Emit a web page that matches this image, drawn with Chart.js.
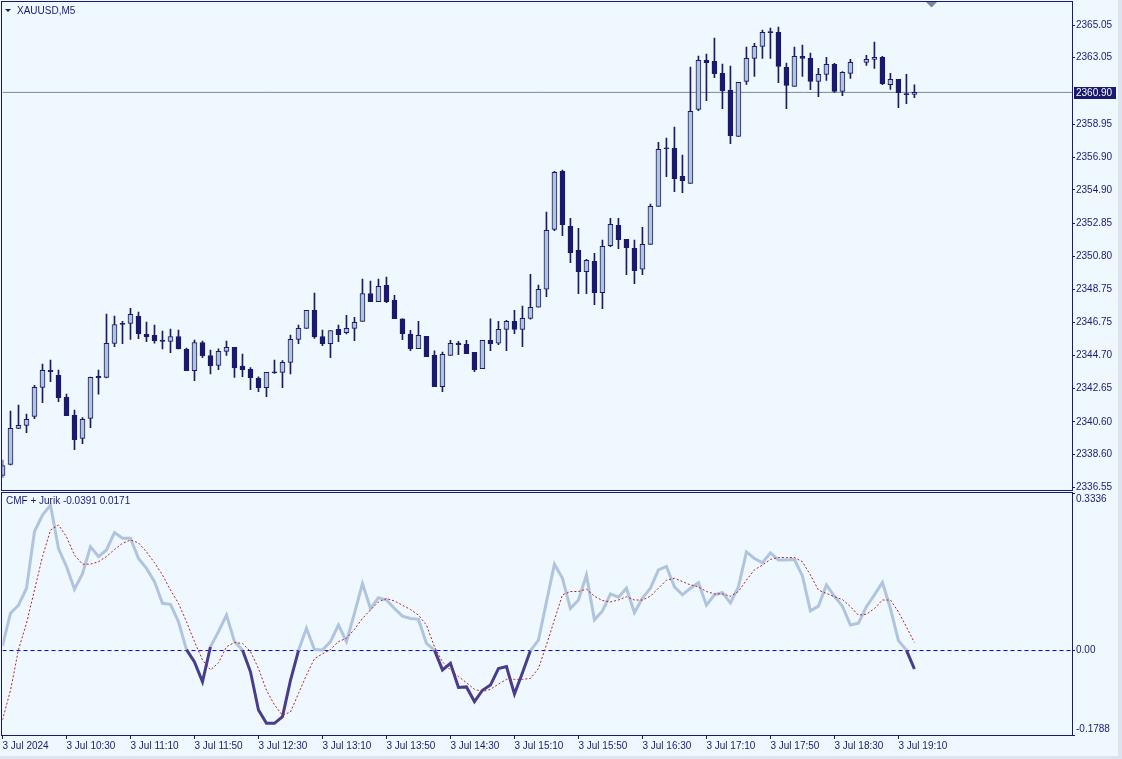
<!DOCTYPE html>
<html>
<head>
<meta charset="utf-8">
<script src="https://cdn.jsdelivr.net/npm/chart.js@4.4.1/dist/chart.umd.min.js"></script>
<style>
html, body { margin: 0; padding: 0; background: #f0f8ff; width: 1122px; height: 759px; overflow: hidden; }
#wrap { position: relative; width: 1122px; height: 759px; }
#priceBox { position: absolute; left: 0; top: 0; width: 1122px; height: 496px; }
#cmfBox { position: absolute; left: 0; top: 491px; width: 1122px; height: 268px; }
#edgeR { position: absolute; left: 1118px; top: 0; width: 4px; height: 759px; background: #dbe4ef; }
#edgeB { position: absolute; left: 0; top: 756px; width: 1122px; height: 3px; background: #dbe4ef; }
</style>
</head>
<body>
<div id="wrap">
  <div id="priceBox"><canvas id="price"></canvas></div>
  <div id="cmfBox"><canvas id="cmf"></canvas></div>
  <div id="edgeR"></div>
  <div id="edgeB"></div>
</div>
<script>
// XAUUSD M5, 3 Jul 2024 09:50 - 19:20
const symbol = 'XAUUSD,M5';

const opens = [
  2337.30, 2337.98, 2340.20, 2340.38, 2340.94, 2342.72, 2343.77, 2343.46, 2342.11, 2341.00,
  2339.58, 2340.81, 2343.40, 2343.34, 2345.43, 2346.67, 2346.67, 2347.10, 2345.99, 2345.93,
  2345.64, 2345.56, 2345.86, 2345.08, 2343.75, 2345.49, 2344.69, 2344.08, 2344.94, 2345.19,
  2344.04, 2343.83, 2343.28, 2342.70, 2343.67, 2343.65, 2344.26, 2345.68, 2346.36, 2347.47,
  2345.86, 2345.41, 2346.30, 2346.09, 2346.36, 2346.79, 2348.51, 2348.01, 2349.01, 2348.09,
  2346.94, 2346.01, 2345.11, 2345.87, 2344.70, 2342.77, 2344.70, 2345.45, 2345.38, 2344.88,
  2343.88, 2345.62, 2345.44, 2346.30, 2346.79, 2346.30, 2346.98, 2347.66, 2348.77, 2352.46,
  2356.04, 2352.65, 2351.17, 2349.85, 2350.49, 2348.56, 2351.45, 2352.71, 2351.85, 2351.29,
  2350.00, 2351.54, 2353.88, 2357.45, 2357.45, 2355.73, 2355.29, 2359.85, 2362.87, 2362.81,
  2362.07, 2361.04, 2358.19, 2361.58, 2363.00, 2363.74, 2364.60, 2364.60, 2362.44, 2361.27,
  2363.12, 2363.00, 2361.58, 2362.01, 2362.63, 2360.96, 2362.07, 2362.89, 2362.75, 2362.93,
  2363.06, 2361.37, 2361.70, 2360.82, 2360.78
];
const highs = [
  2338.24, 2341.26, 2341.63, 2341.08, 2342.85, 2344.16, 2344.41, 2343.79, 2342.31, 2341.33,
  2340.87, 2343.36, 2343.79, 2347.24, 2347.12, 2346.79, 2347.59, 2347.36, 2346.75, 2346.56,
  2346.19, 2346.32, 2346.25, 2345.14, 2345.64, 2345.58, 2345.02, 2345.10, 2345.58, 2345.19,
  2344.78, 2343.95, 2343.38, 2343.65, 2344.41, 2344.37, 2345.95, 2346.56, 2347.47, 2348.53,
  2346.25, 2346.23, 2346.56, 2347.16, 2347.04, 2349.40, 2349.27, 2349.40, 2349.52, 2348.40,
  2346.94, 2346.24, 2346.79, 2345.87, 2344.97, 2344.90, 2345.62, 2345.56, 2345.62, 2344.88,
  2345.62, 2346.94, 2346.79, 2346.86, 2347.47, 2347.74, 2349.69, 2349.03, 2353.53, 2356.04,
  2356.12, 2353.14, 2352.52, 2350.61, 2350.98, 2351.80, 2353.14, 2353.14, 2351.85, 2351.80,
  2352.59, 2354.02, 2357.82, 2358.09, 2358.76, 2357.04, 2362.46, 2363.14, 2363.26, 2364.25,
  2362.65, 2362.52, 2361.52, 2363.69, 2363.92, 2364.74, 2364.86, 2364.93, 2362.71, 2363.69,
  2363.82, 2363.32, 2362.38, 2363.06, 2362.69, 2362.19, 2362.93, 2363.00, 2363.18, 2364.00,
  2363.12, 2362.07, 2361.70, 2362.01, 2361.37
];
const lows = [
  2337.18, 2337.95, 2340.18, 2339.93, 2340.79, 2341.78, 2343.07, 2341.84, 2340.98, 2338.88,
  2339.25, 2340.24, 2342.31, 2343.30, 2345.23, 2345.41, 2345.68, 2345.72, 2345.54, 2345.45,
  2345.10, 2344.86, 2345.10, 2343.75, 2343.13, 2344.55, 2343.56, 2343.81, 2344.69, 2343.34,
  2343.38, 2342.58, 2342.46, 2342.15, 2343.58, 2342.70, 2343.56, 2345.41, 2346.36, 2345.74,
  2345.29, 2344.55, 2345.54, 2346.01, 2345.60, 2346.79, 2348.00, 2348.01, 2347.94, 2346.96,
  2345.66, 2344.99, 2345.11, 2344.62, 2342.77, 2342.46, 2344.70, 2344.74, 2344.80, 2343.69,
  2343.88, 2344.99, 2345.36, 2344.99, 2346.03, 2345.23, 2346.92, 2347.66, 2348.31, 2352.38,
  2352.07, 2350.41, 2348.50, 2348.50, 2347.82, 2347.57, 2351.39, 2351.27, 2349.67, 2349.11,
  2349.67, 2351.54, 2353.88, 2355.70, 2354.78, 2354.72, 2355.29, 2359.77, 2360.39, 2361.80,
  2359.89, 2357.74, 2358.19, 2361.39, 2361.89, 2363.00, 2363.00, 2361.50, 2359.89, 2361.27,
  2361.89, 2361.07, 2360.63, 2361.64, 2360.90, 2360.70, 2361.76, 2361.87, 2362.56, 2362.38,
  2361.37, 2361.09, 2359.96, 2360.20, 2360.57
];
const closes = [
  2337.90, 2340.20, 2340.38, 2340.75, 2342.72, 2343.77, 2343.69, 2342.09, 2340.98, 2339.50,
  2340.75, 2343.34, 2343.30, 2345.43, 2346.60, 2346.60, 2347.22, 2346.03, 2345.84, 2345.60,
  2345.56, 2345.86, 2345.10, 2343.75, 2345.49, 2344.67, 2344.06, 2344.94, 2345.19, 2343.93,
  2343.81, 2343.32, 2342.70, 2343.65, 2343.62, 2344.26, 2345.68, 2346.36, 2347.47, 2345.84,
  2345.41, 2346.23, 2345.97, 2346.36, 2346.73, 2348.51, 2348.00, 2348.95, 2348.01, 2346.96,
  2346.03, 2345.11, 2345.93, 2344.62, 2342.77, 2344.76, 2345.44, 2345.36, 2344.80, 2343.82,
  2345.62, 2345.42, 2346.30, 2346.79, 2346.30, 2346.98, 2347.66, 2348.77, 2352.40, 2355.97,
  2352.75, 2351.02, 2349.85, 2350.55, 2348.56, 2351.41, 2352.77, 2351.83, 2351.33, 2349.92,
  2351.54, 2353.88, 2357.39, 2357.43, 2355.58, 2355.46, 2359.73, 2362.87, 2362.73, 2362.05,
  2361.00, 2358.23, 2361.52, 2363.00, 2363.74, 2364.60, 2364.58, 2362.50, 2361.33, 2363.12,
  2363.00, 2361.58, 2362.01, 2362.63, 2360.96, 2362.13, 2362.75, 2362.89, 2362.93, 2363.06,
  2361.43, 2361.70, 2360.88, 2360.76, 2360.90
];

// CMF (thick line) and its Jurik smoothing (red dots)
const cmf = [
  0.010, 0.079, 0.096, 0.132, 0.252, 0.287, 0.308, 0.216, 0.178, 0.130,
  0.163, 0.220, 0.199, 0.213, 0.250, 0.238, 0.238, 0.195, 0.174, 0.146,
  0.100, 0.098, 0.061, 0.002, -0.024, -0.066, 0.008, 0.040, 0.075, 0.019,
  0.001, -0.045, -0.126, -0.154, -0.154, -0.140, -0.063, 0.000, 0.047, 0.002,
  0.001, 0.019, 0.054, 0.019, 0.079, 0.142, 0.089, 0.112, 0.107, 0.089,
  0.073, 0.068, 0.066, 0.015, 0.001, -0.041, -0.027, -0.078, -0.077, -0.108,
  -0.084, -0.073, -0.038, -0.034, -0.092, -0.047, 0.000, 0.022, 0.103, 0.183,
  0.153, 0.089, 0.107, 0.160, 0.065, 0.084, 0.120, 0.113, 0.132, 0.080,
  0.111, 0.132, 0.171, 0.178, 0.135, 0.118, 0.132, 0.144, 0.096, 0.118,
  0.123, 0.101, 0.135, 0.209, 0.195, 0.186, 0.207, 0.192, 0.192, 0.193,
  0.158, 0.084, 0.094, 0.139, 0.115, 0.094, 0.054, 0.058, 0.093, 0.118,
  0.144, 0.089, 0.021, 0.001, -0.0391
];
const jurik = [
  -0.147, -0.084, 0.002, 0.058, 0.128, 0.199, 0.255, 0.266, 0.241, 0.202,
  0.183, 0.183, 0.188, 0.199, 0.214, 0.227, 0.234, 0.228, 0.209, 0.186,
  0.160, 0.128, 0.100, 0.061, 0.019, -0.020, -0.041, -0.026, 0.008, 0.017,
  0.015, -0.002, -0.038, -0.084, -0.115, -0.137, -0.130, -0.091, -0.052, -0.017,
  -0.007, 0.002, 0.019, 0.026, 0.045, 0.068, 0.086, 0.103, 0.110, 0.105,
  0.096, 0.087, 0.075, 0.054, 0.008, -0.024, -0.041, -0.055, -0.068, -0.082,
  -0.087, -0.082, -0.071, -0.061, -0.061, -0.061, -0.059, -0.038, 0.012, 0.065,
  0.118, 0.125, 0.125, 0.130, 0.115, 0.106, 0.103, 0.107, 0.114, 0.107,
  0.107, 0.115, 0.132, 0.149, 0.153, 0.146, 0.139, 0.135, 0.125, 0.120,
  0.120, 0.115, 0.125, 0.149, 0.171, 0.181, 0.193, 0.197, 0.197, 0.197,
  0.188, 0.160, 0.128, 0.121, 0.114, 0.108, 0.093, 0.075, 0.077, 0.089,
  0.107, 0.107, 0.082, 0.050, 0.0171
];

// axis ticks
const priceTicks = [2365.05, 2363.05, 2358.95, 2356.90, 2354.90, 2352.85, 2350.80, 2348.75,
  2346.75, 2344.70, 2342.65, 2340.60, 2338.60, 2336.55];
const cmfTicks = [0.3336, 0, -0.1788];
const cmfTickLabels = ['0.3336', '0.00', '-0.1788'];
const timeBars = [0, 8, 16, 24, 32, 40, 48, 56, 64, 72, 80, 88, 96, 104, 112];
const timeLabels = ['3 Jul 2024', '3 Jul 10:30', '3 Jul 11:10', '3 Jul 11:50', '3 Jul 12:30',
  '3 Jul 13:10', '3 Jul 13:50', '3 Jul 14:30', '3 Jul 15:10', '3 Jul 15:50', '3 Jul 16:30',
  '3 Jul 17:10', '3 Jul 17:50', '3 Jul 18:30', '3 Jul 19:10'];

const navy = '#191970';
const bullFill = '#b0c4de';
const cmfUp = '#b0c4de';
const cmfDown = '#483d8b';
const font = '"Liberation Sans", Arial, sans-serif';
const viewBars = 133.7; // visible bars incl. chart shift
const N = closes.length;
const lastPrice = closes[N - 1];

Chart.defaults.font.family = font;
Chart.defaults.font.size = 10;
Chart.defaults.color = navy;
Chart.defaults.animation = false;

const isDoji = i => opens[i] === closes[i];
const bodyColor = i => isDoji(i) ? '#ffffff' : (closes[i] > opens[i] ? bullFill : navy);
const edgeColor = i => isDoji(i) ? '#ffffff' : navy;

// no extra room for labels that stick out of the plot
function noPad(ax) {
  ax.paddingTop = 0;
  ax.paddingBottom = 0;
  ax.paddingLeft = 0;
  ax.paddingRight = 0;
}

// box around each plot area
const frame = {
  id: 'frame',
  afterDraw(chart) {
    const { ctx, chartArea: a } = chart;
    const l = Math.floor(a.left) - 0.5, t = Math.floor(a.top) - 0.5;
    ctx.save();
    ctx.strokeStyle = navy;
    ctx.lineWidth = 1;
    ctx.strokeRect(l, t, Math.round(a.right) + 0.5 - l, Math.round(a.bottom) + 0.5 - t);
    ctx.restore();
  }
};

const priceOverlay = {
  id: 'priceOverlay',
  afterDraw(chart) {
    const { ctx } = chart;
    const y = chart.scales.y.getPixelForValue(lastPrice);
    const x0 = chart.chartArea.right;
    ctx.save();
    ctx.font = '10px ' + font;
    ctx.textBaseline = 'middle';
    // bid label
    ctx.fillStyle = navy;
    ctx.fillRect(x0 + 2, Math.round(y) - 5, 42, 12);
    ctx.fillStyle = '#ffffff';
    ctx.fillText(lastPrice.toFixed(2), x0 + 4, y + 1);
    // symbol title
    ctx.fillStyle = navy;
    ctx.beginPath();
    ctx.moveTo(5, 9); ctx.lineTo(11, 9); ctx.lineTo(8, 12); ctx.closePath();
    ctx.fill();
    ctx.fillText(symbol, 17, 11);
    // chart shift marker
    ctx.fillStyle = '#778899';
    ctx.beginPath();
    ctx.moveTo(926, 2); ctx.lineTo(937, 2); ctx.lineTo(931.5, 7.5); ctx.closePath();
    ctx.fill();
    ctx.restore();
  }
};

const cmfOverlay = {
  id: 'cmfOverlay',
  afterDraw(chart) {
    const { ctx } = chart;
    ctx.save();
    ctx.font = '10px ' + font;
    ctx.textBaseline = 'middle';
    ctx.fillStyle = navy;
    ctx.fillText('CMF + Jurik ' + cmf[N - 1].toFixed(4) + ' ' + jurik[N - 1].toFixed(4), 6, 10);
    ctx.restore();
  }
};

const idx = closes.map((c, i) => i);

new Chart(document.getElementById('price'), {
  type: 'bar',
  data: {
    datasets: [
      {
        type: 'bar',
        label: 'body',
        data: idx.map(i => ({ x: i, y: [opens[i], closes[i]] })),
        backgroundColor: ctx => bodyColor(ctx.dataIndex),
        borderColor: ctx => edgeColor(ctx.dataIndex),
        borderWidth: 1,
        borderSkipped: false,
        barThickness: 5,
        maxBarThickness: 5,
        minBarLength: 1,
        grouped: false,
        order: 0
      },
      {
        type: 'bar',
        label: 'wick',
        data: idx.map(i => ({ x: i, y: [lows[i], highs[i]] })),
        backgroundColor: ctx => edgeColor(ctx.dataIndex),
        barThickness: 1,
        maxBarThickness: 1,
        grouped: false,
        order: 1
      },
      {
        type: 'line',
        label: 'bid',
        data: [{ x: 0, y: lastPrice }, { x: viewBars, y: lastPrice }],
        borderColor: '#778899',
        borderWidth: 1,
        pointRadius: 0,
        order: 5
      }
    ]
  },
  options: {
    responsive: true,
    maintainAspectRatio: false,
    layout: { padding: { left: 2.5, top: 2, right: 0, bottom: 6 } },
    plugins: { legend: { display: false }, tooltip: { enabled: false } },
    scales: {
      x: { type: 'linear', min: 0, max: viewBars, offset: false, display: false },
      y: {
        position: 'right',
        min: 2336.40,
        max: 2366.47,
        afterBuildTicks: ax => { ax.ticks = priceTicks.map(v => ({ value: v })); },
        afterFit: ax => { ax.width = 50; noPad(ax); },
        ticks: { callback: v => v.toFixed(2), color: navy, padding: 1, autoSkip: false },
        grid: { drawOnChartArea: false, drawTicks: true, tickLength: 3, color: navy },
        border: { display: false }
      }
    }
  },
  plugins: [frame, priceOverlay]
});

new Chart(document.getElementById('cmf'), {
  type: 'line',
  data: {
    datasets: [
      {
        label: 'Jurik',
        data: idx.map(i => ({ x: i, y: jurik[i] })),
        borderColor: '#b22222',
        borderWidth: 1,
        borderDash: [2, 2],
        pointRadius: 0,
        order: 0
      },
      {
        label: 'CMF',
        data: idx.map(i => ({ x: i, y: cmf[i] })),
        borderWidth: 3,
        borderColor: cmfUp,
        segment: {
          borderColor: c => (c.p0.parsed.y < 0 || c.p1.parsed.y < 0) ? cmfDown : cmfUp
        },
        pointRadius: 0,
        order: 1
      },
      {
        label: 'level',
        data: [{ x: 0, y: 0 }, { x: viewBars, y: 0 }],
        borderColor: '#0000cd',
        borderWidth: 1,
        borderDash: [4, 3],
        pointRadius: 0,
        order: 2
      }
    ]
  },
  options: {
    responsive: true,
    maintainAspectRatio: false,
    layout: { padding: { left: 2.5, top: 2, right: 0, bottom: 0 } },
    plugins: { legend: { display: false }, tooltip: { enabled: false } },
    scales: {
      x: {
        type: 'linear',
        min: 0,
        max: viewBars,
        offset: false,
        afterBuildTicks: ax => { ax.ticks = timeBars.map(v => ({ value: v })); },
        afterFit: ax => { ax.height = 24; noPad(ax); },
        ticks: {
          callback: (v, i) => timeLabels[i],
          align: 'start',
          maxRotation: 0,
          autoSkip: false,
          padding: 1,
          color: navy
        },
        grid: { drawOnChartArea: false, drawTicks: true, tickLength: 4, color: navy },
        border: { display: false }
      },
      y: {
        position: 'right',
        min: -0.1788,
        max: 0.3336,
        afterBuildTicks: ax => { ax.ticks = cmfTicks.map(v => ({ value: v })); },
        afterFit: ax => { ax.width = 50; noPad(ax); },
        ticks: {
          callback: (v, i) => i === 0 ? ['', cmfTickLabels[i]] : (i === cmfTicks.length - 1 ? [cmfTickLabels[i], ''] : cmfTickLabels[i]),
          color: navy,
          padding: 1,
          autoSkip: false
        },
        grid: { drawOnChartArea: false, drawTicks: true, tickLength: 3, color: navy },
        border: { display: false }
      }
    }
  },
  plugins: [frame, cmfOverlay]
});
</script>
</body>
</html>
